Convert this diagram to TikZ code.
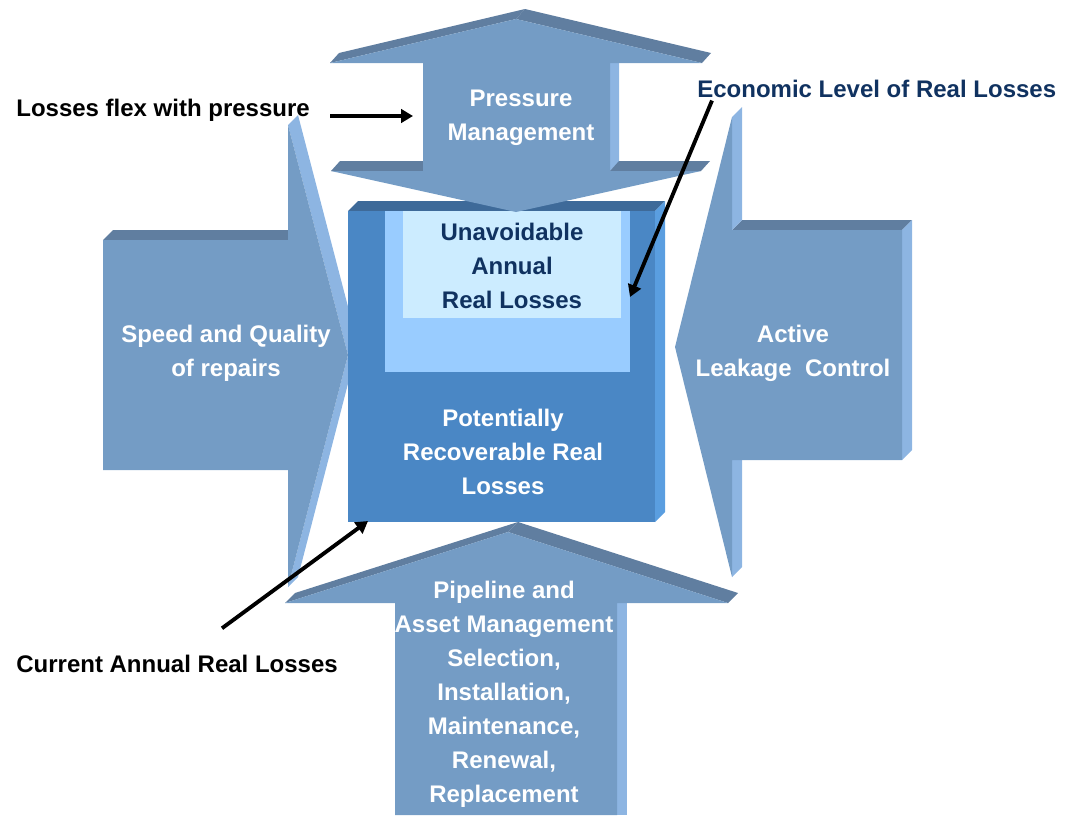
\documentclass[tikz,border=0pt]{standalone}
\usepackage{fontspec}
\setmainfont{Liberation Sans}
\usetikzlibrary{arrows.meta,calc}

\definecolor{arrowface}{RGB}{116,156,197}
\definecolor{arrowtop}{RGB}{96,126,160}
\definecolor{arrowside}{RGB}{141,181,226}
\definecolor{boxface}{RGB}{74,135,197}
\definecolor{boxtop}{RGB}{62,106,153}
\definecolor{boxside}{RGB}{90,158,224}
\definecolor{uarlmid}{RGB}{153,204,255}
\definecolor{uarlin}{RGB}{204,236,255}
\definecolor{navy}{RGB}{16,50,96}

\begin{document}
\begin{tikzpicture}[x=0.02cm, y=-0.02cm,
  lbl/.style={font=\bfseries\fontsize{13.66}{19.35}\selectfont, align=center, inner sep=0pt},
  wlbl/.style={lbl, text=white},
  pointer/.style={-{Triangle[length=0.24cm,width=0.27cm]}, line width=2.2pt}]
  \useasboundingbox (0,0) rectangle (1074,815);

  % Speed and quality of repairs, pointing right
  \fill[arrowtop] (103,240) -- (113,230) -- (298,230) -- (288,240) -- cycle;
  \fill[arrowside] (288,125) -- (298,115) -- (358,345) -- (348,355) -- cycle;
  \fill[arrowside] (348,355) -- (358,345) -- (298,577) -- (288,587) -- cycle;
  \fill[arrowface] (103,240) -- (288,240) -- (288,125) -- (348,355)
    -- (288,587) -- (288,470) -- (103,470) -- cycle;
  \node[wlbl] (speed) at (226,353) {Speed and Quality\\of repairs};

  % Active leakage control, pointing left
  \fill[arrowtop] (732,230) -- (742,220) -- (912,220) -- (902,230) -- cycle;
  \fill[arrowside] (902,230) -- (912,220) -- (912,450) -- (902,460) -- cycle;
  \fill[arrowside] (732,117) -- (742,107) -- (742,220) -- (732,230) -- cycle;
  \fill[arrowside] (732,460) -- (742,450) -- (742,567) -- (732,577) -- cycle;
  \fill[arrowface] (675,347) -- (732,117) -- (732,230) -- (902,230)
    -- (902,460) -- (732,460) -- (732,577) -- cycle;
  \node[wlbl] (alc) at (793,353) {Active\\Leakage\ \ Control};

  % Real losses block
  \fill[boxtop] (348,211) -- (358,201) -- (665,201) -- (655,211) -- cycle;
  \fill[boxside] (655,211) -- (665,201) -- (665,512) -- (655,522) -- cycle;
  \fill[boxface] (348,211) rectangle (655,522);
  \fill[uarlmid] (385,211) rectangle (630,372);
  \fill[uarlin] (403,211) rectangle (621,318);
  \node[lbl, text=navy] (uarl) at (512,266) {Unavoidable\\Annual\\Real Losses};
  \node[wlbl] (prrl) at (503,452) {Potentially\\Recoverable Real\\Losses};

  % Pressure management, double headed
  \fill[arrowtop] (330,63) -- (516,19) -- (525,9) -- (339,53) -- cycle;
  \fill[arrowtop] (516,19) -- (702,63) -- (711,53) -- (525,9) -- cycle;
  \fill[arrowside] (610,63) -- (619,63) -- (619,162) -- (610,171) -- cycle;
  \fill[arrowtop] (331,171) -- (340,161) -- (423,161) -- (423,171) -- cycle;
  \fill[arrowtop] (610,171) -- (619,161) -- (710,161) -- (701,171) -- cycle;
  \fill[arrowface] (330,63) -- (516,19) -- (702,63) -- (610,63) -- (610,171)
    -- (701,171) -- (516,212) -- (331,171) -- (423,171) -- (423,63) -- cycle;
  \node[wlbl] (pm) at (521,118) {Pressure\\Management};

  % Pipeline and asset management, pointing up
  \fill[arrowtop] (285,603) -- (295,593) -- (518,522) -- (508,532) -- cycle;
  \fill[arrowtop] (508,532) -- (518,522) -- (738,593) -- (728,603) -- cycle;
  \fill[arrowside] (617,603) -- (627,603) -- (627,815) -- (617,815) -- cycle;
  \fill[arrowface] (285,603) -- (508,532) -- (728,603) -- (617,603)
    -- (617,815) -- (395,815) -- (395,603) -- cycle;
  \node[wlbl] (pipe) at (504,694) {Pipeline and\\Asset Management\\Selection,\\Installation,\\Maintenance,\\Renewal,\\Replacement};

  % Callouts
  \node[lbl, anchor=base west] (flex) at (16,116) {Losses flex with pressure};
  \node[lbl, anchor=base west, text=navy] (elrl) at (697,97) {Economic Level of Real Losses};
  \node[lbl, anchor=base west] (carl) at (16,672) {Current Annual Real Losses};
  \coordinate (pmTip) at (413,116);
  \coordinate (elrlTip) at (630,297);
  \coordinate (carlTip) at (368,521);
  \draw[pointer] ([xshift=0.4cm]flex.base east) -- (pmTip);
  \draw[pointer] ([shift={(15,3)}]elrl.south west) -- (elrlTip);
  \draw[pointer] ([shift={(206,-26)}]carl.north west) -- (carlTip);
\end{tikzpicture}
\end{document}
